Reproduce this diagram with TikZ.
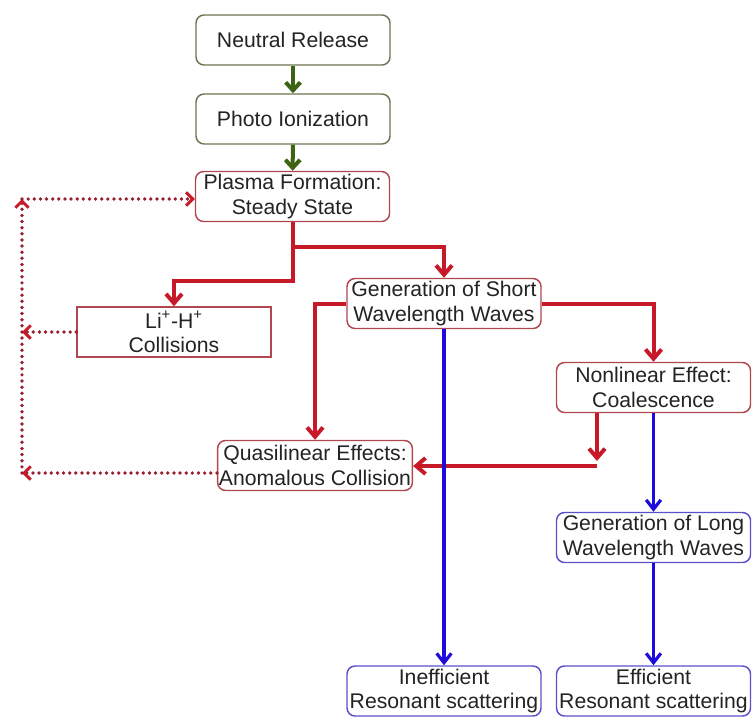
\documentclass[tikz,border=0pt]{standalone}
\usepackage{fontspec}
\setmainfont{Liberation Sans}
\usetikzlibrary{arrows.meta,positioning}
\definecolor{grnline}{RGB}{60,100,20}
\definecolor{grnbox}{RGB}{110,115,80}
\definecolor{redline}{RGB}{200,25,40}
\definecolor{redbox}{RGB}{175,70,80}
\definecolor{blueline}{RGB}{30,10,220}
\definecolor{bluebox}{RGB}{90,80,200}
\definecolor{dotred}{RGB}{150,30,45}
\definecolor{txtgray}{RGB}{35,35,35}

\begin{document}
\begin{tikzpicture}[x=0.75pt,y=-0.75pt,
    box/.style={draw=#1, line width=1.1pt, rounded corners=6pt,
      minimum width=145.5pt, minimum height=37.5pt, inner sep=1pt,
      align=center, text=txtgray, font=\fontsize{15.9}{18.5}\selectfont},
    garrow/.style={draw=grnline, line width=3pt,
      -{Straight Barb[length=6pt,width=11pt]}},
    rarrow/.style={draw=redline, line width=3pt,
      -{Straight Barb[length=7pt,width=12pt]}},
    barrow/.style={draw=blueline, line width=2.4pt,
      -{Straight Barb[length=7pt,width=11pt]}},
    darrow/.style={draw=dotred, line width=2.8pt, line cap=round,
      dash pattern=on 0pt off 4.6pt,
      -{Straight Barb[length=5pt,width=10pt,line width=2.2pt,color=redline]}}]
    \useasboundingbox (0,0) rectangle (752,717);
    % Boxes
    \node[box=grnbox] (neutral) at (293,40) {Neutral Release};
    \node[box=grnbox] (photo) at (293,119) {Photo Ionization};
    \node[box=redbox] (plasma) at (292.5,196.5) {Plasma Formation:\\Steady State};
    \node[box=redbox, rounded corners=0pt] (li) at (174,332)
        {Li\textsuperscript{+}-H\textsuperscript{+}\\Collisions};
    \node[box=redbox] (short) at (444,303.5) {Generation of Short\\Wavelength Waves};
    \node[box=redbox] (nonlin) at (653.5,387.5) {Nonlinear Effect:\\Coalescence};
    \node[box=redbox] (quasi) at (315,465.5) {Quasilinear Effects:\\Anomalous Collision};
    \node[box=bluebox] (long) at (653.5,537.5) {Generation of Long\\Wavelength Waves};
    \node[box=bluebox] (ineff) at (444,691) {Inefficient\\Resonant scattering};
    \node[box=bluebox] (eff) at (653.5,691) {Efficient\\Resonant scattering};
    % Bends
    \coordinate (bend) at (597,461);
    \coordinate (kink) at (597,466);
    \coordinate (top) at (22,199);
    \coordinate (bot) at (22,473);
    % Green arrows
    \draw[garrow] (neutral) -- (photo);
    \draw[garrow] (photo) -- (plasma);
    % Red arrows
    \draw[rarrow] (plasma.south) -- ++(0,59) -| (li.north);
    \draw[rarrow] (plasma.south) ++(0,25) -| (short.north);
    \draw[rarrow] (short.west) -| (quasi.north);
    \draw[rarrow] (short.east) -| (nonlin.north);
    \draw[rarrow] (nonlin.south -| bend) -- (bend);
    \draw[rarrow] (kink) -- (quasi.east |- kink);
    % Blue arrows
    \draw[barrow] (short.south) -- (ineff.north);
    \draw[barrow] (nonlin.south) -- (long.north);
    \draw[barrow] (long.south) -- (eff.north);
    % Feedback
    \draw[darrow] (li.west) -- (li.west -| top);
    \draw[darrow] (quasi.west |- bot) -- (bot);
    \draw[darrow] (bot) -- (top);
    \draw[darrow] (top) -- (plasma.west |- top);
\end{tikzpicture}
\end{document}
